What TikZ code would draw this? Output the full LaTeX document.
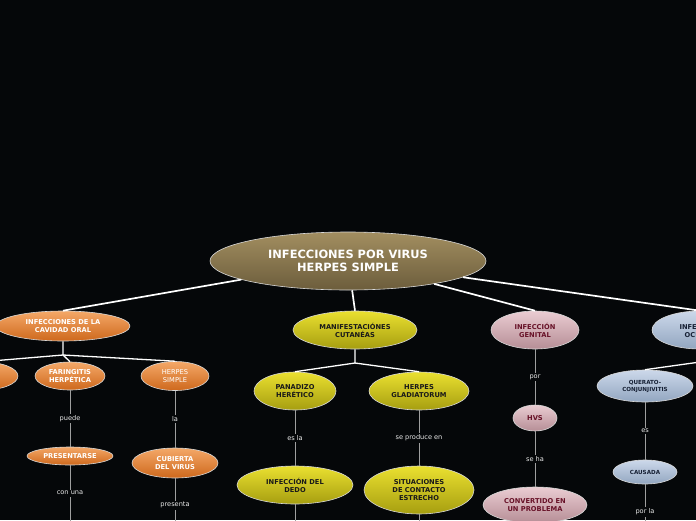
\documentclass[tikz,border=0pt]{standalone}
\usepackage{fontspec}
\setmainfont{DejaVu Sans}
\usetikzlibrary{shapes.geometric}
\definecolor{bg}{RGB}{5,7,9}
\definecolor{mainTop}{RGB}{162,142,96}
\definecolor{mainBot}{RGB}{108,93,60}
\definecolor{orTop}{RGB}{244,168,104}
\definecolor{orBot}{RGB}{206,104,28}
\definecolor{yeTop}{RGB}{234,224,48}
\definecolor{yeBot}{RGB}{166,158,16}
\definecolor{piTop}{RGB}{234,204,210}
\definecolor{piBot}{RGB}{182,142,150}
\definecolor{piText}{RGB}{104,18,40}
\definecolor{blTop}{RGB}{204,216,234}
\definecolor{blBot}{RGB}{146,166,192}
\definecolor{blText}{RGB}{22,32,52}

\tikzset{
  bubble/.style={ellipse,draw=white!70!gray,line width=0.6pt,inner sep=0pt,align=center,
    font=\fontsize{6.7}{8}\selectfont\bfseries},
  topic/.style={bubble,top color=mainTop,bottom color=mainBot,text=white,
    font=\fontsize{11.4}{13.5}\selectfont\bfseries},
  oral/.style={bubble,top color=orTop,bottom color=orBot,text=white},
  manif/.style={bubble,top color=yeTop,bottom color=yeBot,text=black!90},
  genit/.style={bubble,top color=piTop,bottom color=piBot,text=piText},
  ocul/.style={bubble,top color=blTop,bottom color=blBot,text=blText},
  link/.style={white,line width=1.7pt},
  branch/.style={white,line width=1.3pt},
  stem/.style={gray!75,line width=0.9pt},
  lbl/.style={fill=bg,text=white!85!gray,inner sep=1.5pt,font=\fontsize{6.6}{8}\selectfont}
}

\begin{document}
\begin{tikzpicture}[x=1pt,y=-1pt]
  \fill[bg] (0,0) rectangle (696,520);
  \useasboundingbox (0,0) rectangle (696,520);

  \node[topic,minimum width=276,minimum height=58] (virus) at (348,261) {INFECCIONES POR VIRUS\\HERPES SIMPLE};

  \node[oral,minimum width=134,minimum height=30] (cavidad) at (63,326) {INFECCIONES DE LA\\CAVIDAD ORAL};
  \node[oral,minimum width=70,minimum height=28] (otra) at (-17,376) {};
  \node[oral,minimum width=70,minimum height=28] (faring) at (70,376) {FARINGITIS\\HERPÉTICA};
  \node[oral,minimum width=68,minimum height=29,font=\fontsize{6.7}{8}\selectfont] (hsimple) at (175,376) {HERPES\\SIMPLE};
  \node[oral,minimum width=86,minimum height=18] (present) at (70,456) {PRESENTARSE};
  \node[oral,minimum width=86,minimum height=30] (cubierta) at (175,463) {CUBIERTA\\DEL VIRUS};

  \node[manif,minimum width=124,minimum height=38] (cutanea) at (355,330) {MANIFESTACIÓNES\\CUTANÉAS};
  \node[manif,minimum width=82,minimum height=38] (panadizo) at (295,391) {PANADIZO\\HERÉTICO};
  \node[manif,minimum width=100,minimum height=38] (gladiat) at (419,391) {HERPES\\GLADIATORUM};
  \node[manif,minimum width=116,minimum height=38] (dedo) at (295,485) {INFECCIÓN DEL\\DEDO};
  \node[manif,minimum width=110,minimum height=48] (contacto) at (419,490) {SITUACIONES\\DE CONTACTO\\ESTRECHO};

  \node[genit,minimum width=88,minimum height=38] (genital) at (535,330) {INFECCIÓN\\GENITAL};
  \node[genit,minimum width=44,minimum height=26] (hvs) at (535,418) {HVS};
  \node[genit,minimum width=104,minimum height=36] (problema) at (535,505) {CONVERTIDO EN\\UN PROBLEMA};

  \node[ocul,minimum width=96,minimum height=38] (ocular) at (700,330) {INFECCIÓN\\OCULAR};
  \node[ocul,minimum width=96,minimum height=32,font=\fontsize{5.6}{7}\selectfont\bfseries] (querato) at (645,386) {QUERATO-\\CONJUNJIVITIS};
  \node[ocul,minimum width=64,minimum height=24,font=\fontsize{5.6}{7}\selectfont\bfseries] (causada) at (645,472) {CAUSADA};

  \coordinate (jOral) at (63,355);
  \coordinate (jCut) at (355,363);
  \coordinate (jOcu) at (700,362);
  \coordinate (endA) at (70,521);
  \coordinate (endB) at (175,532);
  \coordinate (endC) at (295,530);
  \coordinate (endD) at (419,530);
  \coordinate (endE) at (645,540);

  \draw[link] (virus) -- (cavidad.north);
  \draw[link] (virus) -- (cutanea.north);
  \draw[link] (virus) -- (genital.north);
  \draw[link] (virus) -- (ocular.north);

  \draw[branch] (cavidad) -- (jOral) -- (faring.north);
  \draw[branch] (jOral) -- (otra.north);
  \draw[branch] (jOral) -- (hsimple.north);
  \draw[branch] (cutanea) -- (jCut) -- (panadizo.north);
  \draw[branch] (jCut) -- (gladiat.north);
  \draw[branch] (ocular) -- (jOcu) -- (querato.north);

  \draw[stem] (faring) -- node[lbl]{puede} (present);
  \draw[stem] (present) -- node[lbl]{con una} (endA);
  \draw[stem] (hsimple) -- node[lbl]{la} (cubierta);
  \draw[stem] (cubierta) -- node[lbl]{presenta} (endB);
  \draw[stem] (panadizo) -- node[lbl]{es la} (dedo);
  \draw[stem] (dedo) -- (endC);
  \draw[stem] (gladiat) -- node[lbl]{se produce en} (contacto);
  \draw[stem] (contacto) -- (endD);
  \draw[stem] (genital) -- node[lbl]{por} (hvs);
  \draw[stem] (hvs) -- node[lbl]{se ha} (problema);
  \draw[stem] (querato) -- node[lbl]{es} (causada);
  \draw[stem] (causada) -- node[lbl]{por la} (endE);
\end{tikzpicture}
\end{document}
